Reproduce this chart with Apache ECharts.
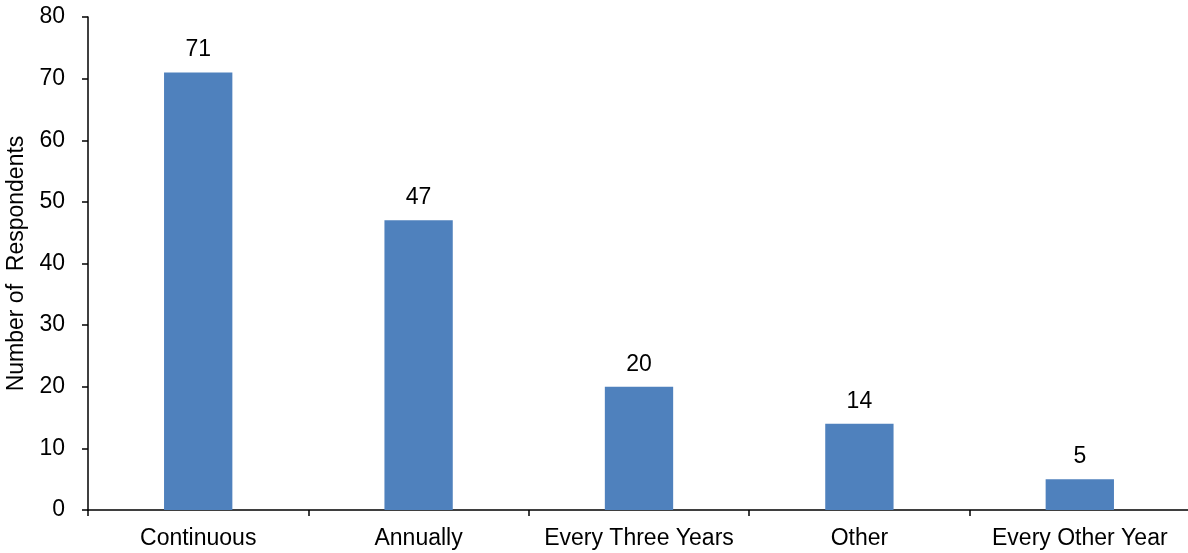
<!DOCTYPE html>
<html>
<head>
<meta charset="utf-8">
<script src="https://cdn.jsdelivr.net/npm/echarts@6/dist/echarts.min.js"></script>
<style>
html,body{margin:0;padding:0;background:#fff;}
#chart{width:1188px;height:553px;}
</style>
</head>
<body>
<div id="chart"></div>
<script>
const categories = ['Continuous', 'Annually', 'Every Three Years', 'Other', 'Every Other Year'];
const values = [71, 47, 20, 14, 5];
const yTicks = { min: 0, max: 80, interval: 10 };
const yName = 'Number of  Respondents';

const chart = echarts.init(document.getElementById('chart'), null, { renderer: 'canvas' });
const font = 'Liberation Sans, Arial, sans-serif';
chart.setOption({
  animation: false,
  backgroundColor: '#ffffff',
  grid: { left: 88, right: -2, top: 17, bottom: 43, containLabel: false, outerBoundsMode: 'none' },
  xAxis: {
    type: 'category',
    data: categories,
    axisLine: { lineStyle: { color: '#000', width: 1.5 } },
    axisTick: { show: true, length: 6, lineStyle: { color: '#000', width: 1.5 } },
    axisLabel: { color: '#000', fontSize: 23, fontFamily: font, margin: 17, interval: 0 },
    splitLine: { show: false }
  },
  yAxis: {
    type: 'value',
    min: yTicks.min, max: yTicks.max, interval: yTicks.interval,
    name: yName,
    nameLocation: 'middle',
    nameRotate: 90,
    nameGap: 55,
    nameTextStyle: { color: '#000', fontSize: 23, fontFamily: font },
    axisLine: { show: true, lineStyle: { color: '#000', width: 1.5 } },
    axisTick: { show: true, length: 6, lineStyle: { color: '#000', width: 1.5 } },
    axisLabel: { color: '#000', fontSize: 23, fontFamily: font, margin: 23 },
    splitLine: { show: false }
  },
  series: [{
    type: 'bar',
    data: values,
    barWidth: '31%',
    itemStyle: { color: '#4F81BD' },
    label: { show: true, position: 'top', distance: 11, color: '#000', fontSize: 23, fontFamily: font }
  }]
});
</script>
</body>
</html>
